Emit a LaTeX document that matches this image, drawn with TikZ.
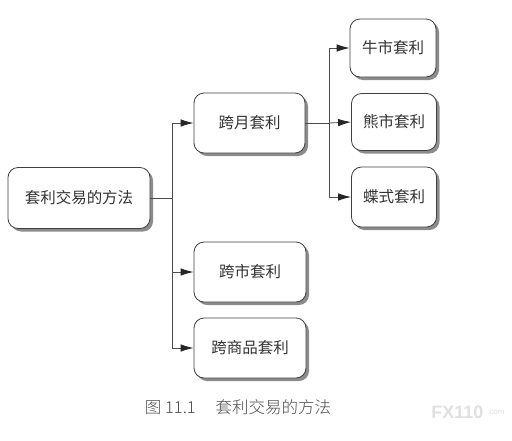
\documentclass[tikz,border=0pt]{standalone}
\usepackage{fontspec}
\newfontfamily\cjk{Noto Sans CJK SC}
\newfontfamily\cjkcap{Noto Sans CJK SC Light}
\usetikzlibrary{shadows,arrows.meta}
\begin{document}
\begin{tikzpicture}[x=1pt,y=-1pt,
  box/.style={draw=black!75, line width=0.8pt, fill=white, rounded corners=10pt,
    drop shadow={shadow xshift=3pt, shadow yshift=-3pt, fill=black!45, opacity=1},
    font=\cjk\fontsize{15.5}{18}\selectfont, text=black!80, inner sep=0pt},
  conn/.style={draw=black!70, line width=0.8pt},
  arr/.style={conn, -{Latex[length=13pt,width=7.5pt,color=black!85]}}]
\useasboundingbox (0,0) rectangle (512,440);
\node[box, minimum width=142pt, minimum height=61pt] (root) at (79,198) {套利交易的方法};
\node[box, minimum width=111pt, minimum height=60pt] (ym) at (249.5,123) {跨月套利};
\node[box, minimum width=112pt, minimum height=60pt] (ks) at (250,272) {跨市套利};
\node[box, minimum width=112pt, minimum height=60pt] (kp) at (250,348) {跨商品套利};
\node[box, minimum width=86pt, minimum height=58pt] (nu) at (393,48) {牛市套利};
\node[box, minimum width=85pt, minimum height=57pt] (xi) at (394,122) {熊市套利};
\node[box, minimum width=85pt, minimum height=60pt] (di) at (394,197) {蝶式套利};
\coordinate (t1) at (172,198);
\coordinate (t2) at (329,123);
\draw[conn] (root.east) -- (t1);
\draw[arr] (t1) |- (ym.west);
\draw[arr] (t1) |- (ks.west);
\draw[arr] (t1) |- (kp.west);
\draw[conn] (ym.east) -- (t2);
\draw[arr] (t2) |- (nu.west);
\draw[arr] (t2) -- (xi.west);
\draw[arr] (t2) |- (di.west);
\node[font=\cjkcap\fontsize{16.5}{18}\selectfont, text=black!70] (cap) at (238,407) {图 11.1\hspace{1.2em}套利交易的方法};
\node[font=\fontspec{Liberation Sans}\bfseries\fontsize{18}{20}\selectfont, text=black!12, anchor=east] (wm) at (487,412) {FX110};
\node[font=\fontspec{Liberation Sans}\fontsize{8}{10}\selectfont, text=black!12, anchor=west, inner sep=0pt] (wm2) at (wm.east) {.com};
\end{tikzpicture}
\end{document}
